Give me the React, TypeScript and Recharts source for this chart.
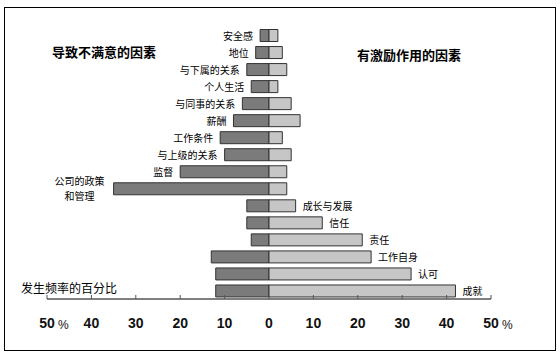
import { BarChart, Bar, XAxis, YAxis, LabelList, Customized } from 'recharts'

// factors, top to bottom
const factors = [
  '安全感', '地位', '与下属的关系', '个人生活', '与同事的关系', '薪酬', '工作条件', '与上级的关系',
  '监督', '公司的政策\n和管理', '成长与发展', '信任', '责任', '工作自身', '认可', '成就',
]
// which side the factor name belongs to
const kinds = [
  'hygiene', 'hygiene', 'hygiene', 'hygiene', 'hygiene', 'hygiene', 'hygiene', 'hygiene',
  'hygiene', 'hygiene', 'motivator', 'motivator', 'motivator', 'motivator', 'motivator', 'motivator',
]
// % of dissatisfying events (left) and satisfying events (right)
const dissatisfied = [2, 3, 5, 4, 6, 8, 11, 10, 20, 35, 5, 5, 4, 13, 12, 12]
const satisfied = [2, 3, 4, 2, 5, 7, 3, 5, 4, 4, 6, 12, 21, 23, 32, 42]
const ticks = [-50, -40, -30, -20, -10, 0, 10, 20, 30, 40, 50]

const data = factors.map((name, i) => ({
  name,
  kind: kinds[i],
  dis: -dissatisfied[i],
  sat: satisfied[i],
}))

const cjk = '"Noto Sans CJK SC", sans-serif'

function FactorLabel(props: any, side: string) {
  const { x, y, width, height, index } = props
  if (data[index].kind !== side) return null
  const left = Math.min(x, x + width)
  const right = Math.max(x, x + width)
  const cy = y + height / 2
  const lines = String(data[index].name).split('\n')
  if (side === 'motivator') {
    return (
      <text x={right + 7} y={cy + 4} fontSize={10} fontFamily={cjk} fill="#000">
        {lines[0]}
      </text>
    )
  }
  if (lines.length > 1) {
    const w = Math.max(...lines.map((l) => l.length)) * 10
    const cx = left - 9 - w / 2
    return (
      <g>
        {lines.map((l, k) => (
          <text key={k} x={cx} y={cy - 3.5 + k * 14.5} fontSize={10} fontFamily={cjk} fill="#000" textAnchor="middle">
            {l}
          </text>
        ))}
      </g>
    )
  }
  return (
    <text x={left - 7} y={cy + 4} fontSize={10} fontFamily={cjk} fill="#000" textAnchor="end">
      {lines[0]}
    </text>
  )
}

function PercentTick(props: any) {
  const { x, y, payload } = props
  const v = payload.value
  return (
    <g>
      <line x1={x} x2={x} y1={y} y2={y - 4} stroke="#555" />
      <text x={x} y={y + 29} textAnchor="middle" fontSize={14} fontWeight="bold" fontFamily="Liberation Sans, Arial, sans-serif" fill="#111">
        {Math.abs(v)}
      </text>
      {Math.abs(v) === 50 && (
        <text x={x + 11} y={y + 30} fontSize={12} fontFamily="Liberation Sans, Arial, sans-serif" fill="#111">
          %
        </text>
      )}
    </g>
  )
}

function Titles() {
  return (
    <g>
      <text x={52} y={57} fontSize={13} fontWeight="bold" fontFamily={cjk} fill="#000">
        导致不满意的因素
      </text>
      <text x={357} y={60} fontSize={13} fontWeight="bold" fontFamily={cjk} fill="#000">
        有激励作用的因素
      </text>
      <text x={21} y={293} fontSize={12} fontFamily={cjk} fill="#000">
        发生频率的百分比
      </text>
    </g>
  )
}

export default function App() {
  return (
    <div style={{ position: 'absolute', left: 0, top: 0, width: 560, height: 354, background: '#fff' }}>
      <div
        style={{
          position: 'absolute',
          left: 4,
          top: 7,
          width: 550,
          height: 342,
          border: '1px solid #000',
        }}
      />
      <div style={{ position: 'absolute', left: 0, top: 0 }}>
        <BarChart
          width={560}
          height={354}
          data={data}
          layout="vertical"
          stackOffset="sign"
          margin={{ top: 26.5, right: 69, bottom: 25, left: 47 }}
        >
          <XAxis
            type="number"
            domain={[-50, 50]}
            ticks={ticks}
            tickSize={0}
            tickMargin={0}
            tickLine={false}
            height={30}
            axisLine={{ stroke: '#555', strokeWidth: 1.5 }}
            tick={<PercentTick />}
            interval={0}
          />
          <YAxis type="category" dataKey="name" hide />
          <Bar dataKey="dis" stackId="a" barSize={12} fill="#7b7b7b" stroke="#333" strokeWidth={1} isAnimationActive={false}>
            <LabelList dataKey="name" content={(p: any) => FactorLabel(p, 'hygiene')} />
          </Bar>
          <Bar dataKey="sat" stackId="a" barSize={12} fill="#c6c6c6" stroke="#333" strokeWidth={1} isAnimationActive={false}>
            <LabelList dataKey="name" content={(p: any) => FactorLabel(p, 'motivator')} />
          </Bar>
          <Customized component={Titles} />
        </BarChart>
      </div>
    </div>
  )
}
